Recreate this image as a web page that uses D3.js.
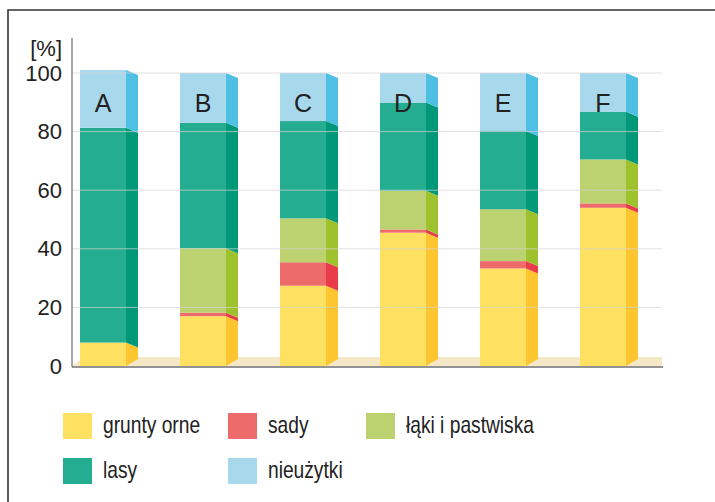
<!DOCTYPE html>
<html>
<head>
<meta charset="utf-8">
<script src="https://cdn.jsdelivr.net/npm/d3@7"></script>
<style>
  body { margin: 0; background: #fff; }
  svg { display: block; font-family: "Liberation Sans", Arial, sans-serif; }
</style>
</head>
<body>
<svg id="chart"></svg>
<script>
const categories = ["A", "B", "C", "D", "E", "F"];
const gruntyOrne = [8, 17, 27.4, 45.5, 33.3, 54];
const sady = [0, 1.2, 8, 1.1, 2.5, 1.5];
const lakiPastwiska = [0, 22, 15, 13.2, 17.7, 15];
const lasy = [73.3, 42.8, 33.2, 30.1, 26.7, 16.3];
const nieuzytki = [19.7, 17, 16.4, 10.1, 19.8, 13.2];
const yTicks = [0, 20, 40, 60, 80, 100];

const keys = ["grunty orne", "sady", "łąki i pastwiska", "lasy", "nieużytki"];
const seriesValues = [gruntyOrne, sady, lakiPastwiska, lasy, nieuzytki];
const frontColors = ["#fee160", "#ee6b6b", "#bcd16f", "#24ad91", "#a7d8ec"];
const sideColors = ["#fdc52f", "#e83c4b", "#9dc22d", "#009878", "#4fbfe3"];

const width = 715, height = 502;
const svg = d3.select("#chart").attr("width", width).attr("height", height);

const rows = categories.map((c, i) => {
  const r = { cat: c };
  keys.forEach((k, j) => r[k] = seriesValues[j][i]);
  return r;
});
const stacked = d3.stack().keys(keys)(rows);

const x = d3.scaleBand().domain(categories).range([53, 653]).paddingInner(0.54).paddingOuter(0.27);
const y = d3.scaleLinear().domain([0, 100]).range([366, 73]);
const depth = 12, drop = 5, baseRise = 7;

// frame (top + left only)
svg.append("path").attr("d", "M8,502V10H715").attr("fill", "none")
  .attr("stroke", "#333").attr("stroke-width", 1.6);

// floor
svg.append("polygon")
  .attr("points", [[72, 366], [84, 357], [662, 357], [662, 366]].join(" "))
  .attr("fill", "#f4e8c6");

// bars
const layer = svg.append("g").selectAll("g").data(stacked).enter().append("g");
layer.each(function(s, si) {
  const g = d3.select(this);
  s.forEach(d => {
    const cat = d.data.cat;
    if (d[1] - d[0] <= 0) return;
    const x0 = x(cat), x1 = x0 + x.bandwidth();
    const yt = y(d[1]), yb = y(d[0]);
    g.append("rect").attr("x", x0).attr("y", yt).attr("width", x.bandwidth())
      .attr("height", yb - yt).attr("fill", frontColors[si]);
    const ybr = d[0] === 0 ? yb - baseRise : yb + drop;
    g.append("polygon")
      .attr("points", [[x1, yt], [x1 + depth, yt + drop], [x1 + depth, ybr], [x1, yb]].join(" "))
      .attr("fill", sideColors[si]);
  });
});

// gridlines over bars
svg.append("g").selectAll("line").data(yTicks.filter(t => t > 0)).enter().append("line")
  .attr("x1", 72).attr("x2", 662).attr("y1", d => y(d)).attr("y2", d => y(d))
  .attr("stroke", "#d6d6d6").attr("stroke-width", 1).attr("opacity", 0.7);

// axes
const yAxis = svg.append("g").attr("transform", "translate(72,0)")
  .call(d3.axisLeft(y).tickValues(yTicks).tickSize(0).tickPadding(10));
yAxis.select(".domain").remove();
yAxis.selectAll("text").attr("font-size", 22).attr("fill", "#222")
  .attr("font-family", "Liberation Sans, Arial, sans-serif");
svg.append("line").attr("x1", 72).attr("x2", 72).attr("y1", 38).attr("y2", 367)
  .attr("stroke", "#8a8a8a").attr("stroke-width", 1.5);
svg.append("line").attr("x1", 72).attr("x2", 663).attr("y1", 367).attr("y2", 367)
  .attr("stroke", "#6f6f6f").attr("stroke-width", 1.5);
svg.append("text").attr("x", 62).attr("y", 56).attr("text-anchor", "end")
  .attr("font-size", 22).attr("fill", "#222").text("[%]");

// category letters
svg.append("g").selectAll("text").data(categories).enter().append("text")
  .attr("x", d => x(d) + x.bandwidth() / 2).attr("y", 112)
  .attr("text-anchor", "middle").attr("font-size", 25).attr("fill", "#222")
  .text(d => d);

// legend
const legendPos = [[63, 413], [228, 413], [366, 413], [63, 458], [228, 458]];
const legend = svg.append("g").selectAll("g").data(keys).enter().append("g")
  .attr("transform", (d, i) => `translate(${legendPos[i][0]},${legendPos[i][1]})`);
legend.append("rect").attr("width", 29).attr("height", 26).attr("fill", (d, i) => frontColors[i]);
legend.append("text").attr("transform", "translate(40,20) scale(0.8,1)")
  .attr("font-size", 24).attr("fill", "#222")
  .text(d => d);
</script>
</body>
</html>
